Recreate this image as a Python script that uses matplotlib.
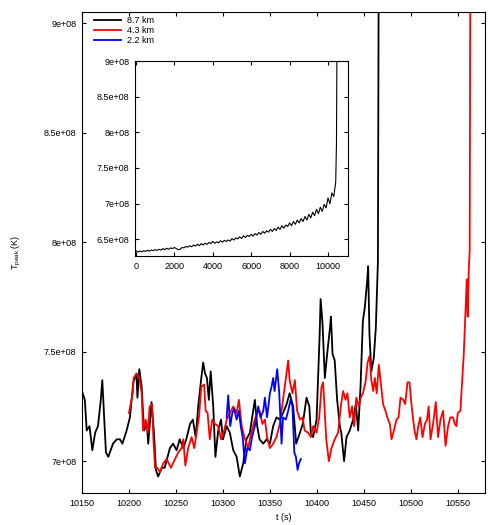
import matplotlib
matplotlib.use('Agg')
import matplotlib.pyplot as plt
from matplotlib.ticker import FixedLocator, FuncFormatter

plt.rcParams['font.family'] = ['Liberation Sans', 'DejaVu Sans']
plt.rcParams['mathtext.fontset'] = 'custom'
plt.rcParams['mathtext.rm'] = 'Liberation Sans'
plt.rcParams['mathtext.it'] = 'Liberation Sans:italic'

# 8.7 km resolution (T in units of 1e8 K)
black_t = [10150, 10153, 10155, 10158, 10161, 10164, 10167, 10170, 10171.6, 10173,
           10175.5, 10178, 10183, 10187, 10190.4, 10193, 10197.5, 10201, 10204.6, 10208,
           10209, 10211, 10213.5, 10216, 10219, 10220.5, 10224, 10226.6, 10228.7, 10231,
           10235, 10238, 10243.6, 10247, 10250.7, 10254, 10257.8, 10261, 10265, 10268,
           10271, 10273.7, 10277, 10279, 10281, 10283, 10285, 10287, 10289.7, 10292,
           10295, 10298, 10300, 10304, 10307.4, 10311, 10314.6, 10318, 10321.6, 10325,
           10328.7, 10334, 10336.5, 10339, 10343, 10346.5, 10350, 10353.5, 10357, 10360.6,
           10364, 10367.8, 10371, 10374.8, 10378, 10382, 10385, 10389, 10392, 10393.6,
           10396, 10399.7, 10403, 10404, 10406, 10408.5, 10411, 10414, 10415, 10416.7,
           10419, 10421.6, 10424.5, 10426, 10429, 10431.6, 10435, 10438.6, 10441.5, 10444,
           10446.5, 10449, 10451, 10453.5, 10454.6, 10456, 10458, 10460.6, 10462.8, 10465,
           10466]
black_T = [7.32, 7.28, 7.14, 7.16, 7.05, 7.13, 7.16, 7.28, 7.37, 7.25,
           7.04, 7.02, 7.08, 7.10, 7.10, 7.08, 7.14, 7.20, 7.36, 7.40,
           7.29, 7.42, 7.34, 7.14, 7.17, 7.08, 7.27, 7.13, 6.96, 6.93,
           6.97, 6.97, 7.06, 7.08, 7.05, 7.10, 7.06, 7.10, 7.17, 7.19,
           7.11, 7.25, 7.38, 7.45, 7.40, 7.38, 7.28, 7.41, 7.25, 7.02,
           7.14, 7.19, 7.10, 7.16, 7.13, 7.05, 7.02, 6.93, 6.99, 7.10,
           7.13, 7.28, 7.16, 7.10, 7.08, 7.10, 7.08, 7.16, 7.20, 7.19,
           7.22, 7.26, 7.31, 7.25, 7.08, 7.13, 7.17, 7.29, 7.25, 7.13,
           7.11, 7.19, 7.58, 7.74, 7.63, 7.38, 7.49, 7.61, 7.66, 7.49,
           7.46, 7.28, 7.16, 7.13, 7.00, 7.11, 7.14, 7.19, 7.26, 7.14,
           7.34, 7.64, 7.70, 7.82, 7.89, 7.58, 7.41, 7.47, 7.61, 7.91,
           9.5]

# 4.3 km resolution
red_t = [10200, 10204, 10205, 10208, 10211, 10213.5, 10215, 10217.8, 10220, 10222,
         10224.5, 10226, 10227.7, 10230, 10233, 10236.5, 10240, 10244.7, 10249, 10252.5,
         10256, 10257.8, 10260, 10263, 10266.7, 10269.5, 10272, 10274.5, 10277, 10280,
         10281.6, 10283.7, 10286, 10288.6, 10291.5, 10295, 10298, 10301.4, 10304, 10307.4,
         10311, 10314.6, 10317, 10320, 10323.4, 10327, 10328.7, 10332, 10336, 10339,
         10342, 10344.7, 10347, 10350, 10353.5, 10357, 10360.6, 10364, 10367, 10369.5,
         10371, 10374, 10376.6, 10379, 10382, 10384.8, 10387, 10390.7, 10393.6, 10396,
         10399.7, 10402.5, 10405, 10406.7, 10408.5, 10410, 10412.8, 10415.6, 10419, 10422.6,
         10425.5, 10428, 10430.5, 10432.6, 10435, 10437.5, 10439.7, 10442, 10444.7, 10446.8,
         10449, 10451.8, 10454, 10456, 10458, 10460, 10461.7, 10463.7, 10466, 10469,
         10470.5, 10473, 10475, 10477.7, 10479.5, 10482, 10484.8, 10487, 10489, 10492,
         10494, 10496.5, 10498.6, 10500.7, 10502.5, 10504, 10506, 10508, 10510, 10512.5,
         10515, 10517.3, 10519, 10521, 10523.7, 10526.6, 10529, 10531.6, 10534.4, 10537,
         10539.7, 10542, 10545, 10546.8, 10548.6, 10550, 10552.8, 10555, 10556.4, 10558,
         10559.6, 10560.6, 10561.7, 10562.7, 10563.5]
red_T = [7.22, 7.31, 7.38, 7.40, 7.38, 7.31, 7.14, 7.19, 7.13, 7.25,
         7.26, 7.10, 6.97, 6.97, 6.95, 6.99, 7.01, 6.97, 7.01, 7.04,
         7.06, 7.10, 6.98, 7.06, 7.11, 7.06, 7.13, 7.20, 7.34, 7.35,
         7.23, 7.22, 7.10, 7.19, 7.17, 7.16, 7.10, 7.14, 7.19, 7.22,
         7.25, 7.22, 7.28, 7.16, 7.10, 7.06, 7.10, 7.16, 7.22, 7.23,
         7.17, 7.19, 7.11, 7.06, 7.08, 7.11, 7.17, 7.28, 7.38, 7.46,
         7.37, 7.31, 7.37, 7.23, 7.19, 7.20, 7.14, 7.13, 7.11, 7.16,
         7.13, 7.20, 7.34, 7.36, 7.22, 7.10, 7.00, 7.06, 7.10, 7.13,
         7.25, 7.32, 7.28, 7.31, 7.20, 7.25, 7.16, 7.29, 7.25, 7.29,
         7.31, 7.36, 7.45, 7.48, 7.37, 7.32, 7.38, 7.31, 7.44, 7.32,
         7.26, 7.23, 7.20, 7.17, 7.10, 7.14, 7.19, 7.20, 7.29, 7.28,
         7.26, 7.36, 7.36, 7.26, 7.19, 7.14, 7.10, 7.16, 7.20, 7.11,
         7.17, 7.19, 7.25, 7.10, 7.17, 7.27, 7.11, 7.19, 7.23, 7.07,
         7.16, 7.20, 7.20, 7.17, 7.16, 7.22, 7.23, 7.39, 7.49, 7.66,
         7.83, 7.66, 7.87, 7.96, 9.5]

# 2.2 km resolution
blue_t = [10304, 10305.6, 10307.8, 10310, 10312, 10314.6, 10317, 10319, 10321, 10323.4,
          10326, 10328.7, 10331, 10334, 10337.6, 10340, 10343, 10344.7, 10347, 10350,
          10351.8, 10353.5, 10355, 10357.8, 10360, 10362.4, 10364, 10367, 10369.5, 10372,
          10374, 10376, 10377.7, 10379.5, 10381, 10383]
blue_T = [7.20, 7.30, 7.16, 7.22, 7.24, 7.19, 7.23, 7.16, 7.11, 6.99,
          7.06, 7.05, 7.11, 7.16, 7.25, 7.20, 7.23, 7.29, 7.20, 7.31,
          7.34, 7.38, 7.32, 7.42, 7.31, 7.08, 7.20, 7.19, 7.23, 7.28,
          7.25, 7.04, 7.02, 6.96, 6.99, 7.01]

# inset: full 8.7 km run, sampled every 100 s
inset_t = list(range(0, 10500, 100)) + [10440, 10470]
inset_T = [6.34, 6.32, 6.335, 6.325, 6.34, 6.33, 6.345, 6.335, 6.35, 6.34,
           6.355, 6.345, 6.36, 6.35, 6.37, 6.355, 6.375, 6.36, 6.38, 6.37,
           6.385, 6.37, 6.355, 6.36, 6.385, 6.38, 6.40, 6.39, 6.41, 6.395,
           6.42, 6.405, 6.43, 6.41, 6.44, 6.42, 6.445, 6.43, 6.455, 6.44,
           6.47, 6.445, 6.465, 6.45, 6.48, 6.46, 6.485, 6.47, 6.49, 6.475,
           6.51, 6.49, 6.52, 6.505, 6.535, 6.51, 6.55, 6.525, 6.555, 6.54,
           6.57, 6.545, 6.58, 6.56, 6.595, 6.57, 6.61, 6.585, 6.62, 6.60,
           6.64, 6.61, 6.65, 6.625, 6.67, 6.64, 6.69, 6.655, 6.70, 6.68,
           6.73, 6.69, 6.75, 6.71, 6.77, 6.73, 6.79, 6.75, 6.82, 6.77,
           6.85, 6.80, 6.88, 6.83, 6.92, 6.86, 6.95, 6.89, 6.99, 6.94,
           7.08, 7.00, 7.15, 7.10, 7.30,
           7.85, 9.5]

labels = ['8.7 km', '4.3 km', '2.2 km']
main_xticks = list(range(10150, 10551, 50))
main_yticks = [7e8, 7.5e8, 8e8, 8.5e8, 9e8]
inset_xticks = list(range(0, 10001, 2000))
inset_yticks = [6.5e8, 7e8, 7.5e8, 8e8, 8.5e8, 9e8]

fs = 6.5
gfmt = FuncFormatter(lambda v, p: '%g' % v)

fig = plt.figure(figsize=(5, 5.25), dpi=100)
ax = fig.add_axes([0.164, 0.061, 0.806, 0.916])

ax.plot(black_t, [v * 1e8 for v in black_T], color='black', lw=1.3, label=labels[0])
ax.plot(red_t, [v * 1e8 for v in red_T], color='red', lw=1.3, label=labels[1])
ax.plot(blue_t, [v * 1e8 for v in blue_T], color='blue', lw=1.3, label=labels[2])

ax.set_xlim(10150, 10579)
ax.set_ylim(6.855e8, 9.05e8)
ax.xaxis.set_major_locator(FixedLocator(main_xticks))
ax.yaxis.set_major_locator(FixedLocator(main_yticks))
ax.yaxis.set_major_formatter(gfmt)
ax.tick_params(direction='in', length=3, width=0.8, labelsize=fs,
               top=True, right=True, pad=4)
ax.set_xlabel('t (s)', fontsize=fs)
ax.set_ylabel('T$_{\\rm peak}$ (K)', fontsize=fs)
ax.xaxis.set_label_coords(0.5, -0.042)
ax.yaxis.set_label_coords(-0.146, 0.5)

ax.legend(loc='upper left', bbox_to_anchor=(0.188, 0.969), bbox_transform=fig.transFigure,
          frameon=False, fontsize=fs, handlelength=3.0, handletextpad=0.7,
          labelspacing=0.1, borderpad=0, borderaxespad=0)

ins = fig.add_axes([0.27, 0.5124, 0.426, 0.3714])
ins.plot(inset_t, [v * 1e8 for v in inset_T], color='black', lw=0.8)
ins.set_xlim(-50, 11040)
ins.set_ylim(6.266e8, 9e8)
ins.xaxis.set_major_locator(FixedLocator(inset_xticks))
ins.yaxis.set_major_locator(FixedLocator(inset_yticks))
ins.yaxis.set_major_formatter(gfmt)
ins.tick_params(direction='in', length=3, width=0.8, labelsize=fs,
                top=True, right=True, pad=4)

fig.savefig('out.png', dpi=100)
